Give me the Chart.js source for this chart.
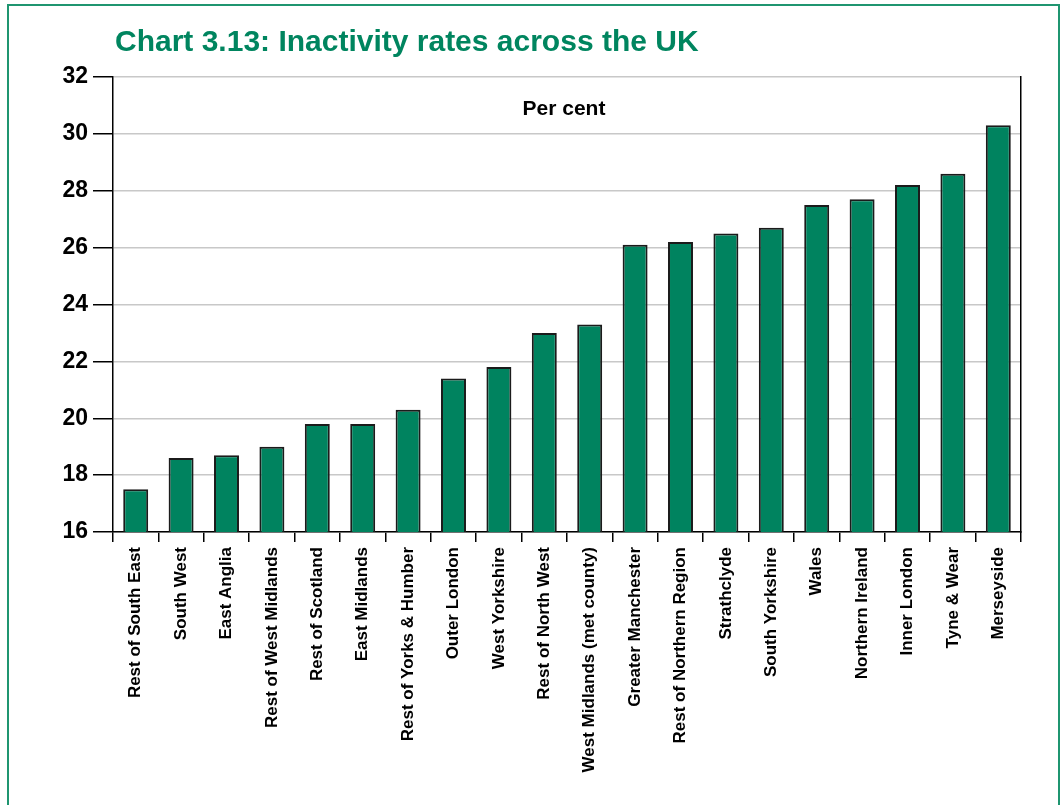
<!DOCTYPE html>
<html>
<head>
<meta charset="utf-8">
<script src="https://cdn.jsdelivr.net/npm/chart.js@4"></script>
<style>
  html, body { margin: 0; padding: 0; background: #fff; }
  #frame {
    position: absolute; left: 7px; top: 4px; width: 1053px; height: 820px;
    border: 2px solid #1f9570; box-sizing: border-box;
  }
  #wrap { position: absolute; left: 0; top: 0; width: 1064px; height: 805px; }
</style>
</head>
<body>
<div id="frame"></div>
<div id="wrap"><canvas id="chart"></canvas></div>
<script>
// Regions, sorted by inactivity rate
var regions = [
  'Rest of South East', 'South West', 'East Anglia', 'Rest of West Midlands',
  'Rest of Scotland', 'East Midlands', 'Rest of Yorks & Humber', 'Outer London',
  'West Yorkshire', 'Rest of North West', 'West Midlands (met county)',
  'Greater Manchester', 'Rest of Northern Region', 'Strathclyde', 'South Yorkshire',
  'Wales', 'Northern Ireland', 'Inner London', 'Tyne & Wear', 'Merseyside'
];
var inactivity = [
  17.5, 18.6, 18.7, 19.0, 19.8, 19.8, 20.3, 21.4, 21.8, 23.0,
  23.3, 26.1, 26.2, 26.5, 26.7, 27.5, 27.7, 28.2, 28.6, 30.3
];
var yMin = 16;
var yMax = 32;
var yStep = 2;

var titleText = 'Chart 3.13: Inactivity rates across the UK';
var unitText = 'Per cent';

// Title above the plot and the unit label inside it
var headingPlugin = {
  id: 'heading',
  afterDraw: function(chart) {
    var ctx = chart.ctx;
    var area = chart.chartArea;
    ctx.save();
    ctx.fillStyle = '#00855f';
    ctx.font = 'bold 30px "Liberation Sans", sans-serif';
    ctx.textAlign = 'left';
    ctx.textBaseline = 'alphabetic';
    ctx.fillText(titleText, 115, 51);

    ctx.fillStyle = '#000';
    ctx.font = 'bold 21px "Liberation Sans", sans-serif';
    ctx.textAlign = 'center';
    ctx.textBaseline = 'middle';
    ctx.fillText(unitText, (area.left + area.right) / 2 - 3, area.top + 32);
    ctx.restore();
  }
};

var ctx = document.getElementById('chart').getContext('2d');
var chart = new Chart(ctx, {
  type: 'bar',
  data: {
    labels: regions,
    datasets: [{
      data: inactivity,
      backgroundColor: '#00835f',
      borderColor: '#1b1b1b',
      borderWidth: 2,
      barPercentage: 0.55,
      categoryPercentage: 1
    }]
  },
  options: {
    responsive: true,
    maintainAspectRatio: false,
    animation: false,
    layout: { padding: { top: 77, left: 0, right: 0, bottom: 0 } },
    plugins: {
      legend: { display: false },
      tooltip: { enabled: false }
    },
    scales: {
      x: {
        afterFit: function(scale) { scale.height = 273; },
        grid: {
          drawOnChartArea: false,
          drawTicks: true,
          tickLength: 10,
          tickColor: '#000',
          lineWidth: 1.5
        },
        border: { display: true, color: '#000', width: 1.5 },
        ticks: {
          autoSkip: false,
          maxRotation: 90,
          minRotation: 90,
          padding: 5,
          color: '#000',
          font: { family: '"Liberation Sans", sans-serif', size: 17, weight: 'bold' }
        }
      },
      y: {
        min: yMin,
        max: yMax,
        afterFit: function(scale) { scale.width = 113; },
        grid: {
          color: '#c8c8c8',
          lineWidth: 1.5,
          tickLength: 20,
          tickColor: '#000'
        },
        border: { display: true, color: '#000', width: 1.5 },
        ticks: {
          stepSize: yStep,
          padding: 5,
          color: '#000',
          font: { family: '"Liberation Sans", sans-serif', size: 23, weight: 'bold' }
        }
      },
      y2: {
        position: 'right',
        min: yMin,
        max: yMax,
        afterFit: function(scale) { scale.width = 43; },
        grid: { drawOnChartArea: false, drawTicks: false },
        border: { display: true, color: '#000', width: 1.5 },
        ticks: { display: false }
      }
    }
  },
  plugins: [headingPlugin]
});
</script>
</body>
</html>
